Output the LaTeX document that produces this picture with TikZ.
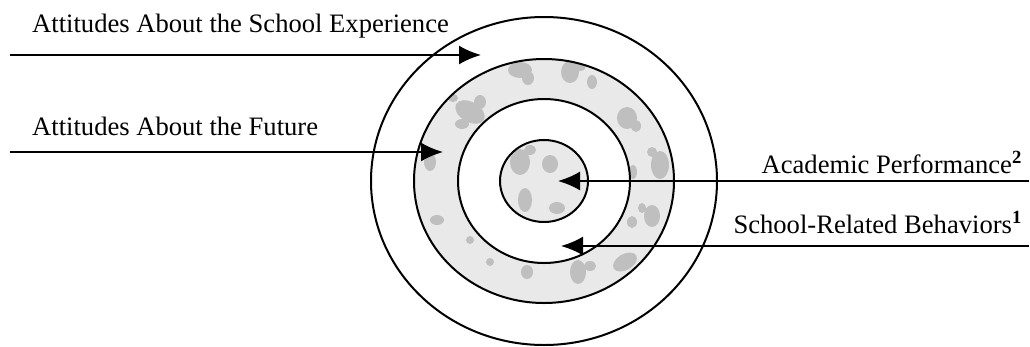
\documentclass[tikz,border=0pt]{standalone}
\usepackage{fontspec}
\setmainfont{Liberation Serif}
\usetikzlibrary{arrows.meta}
\begin{document}
\begin{tikzpicture}[x=1pt,y=-1pt,
  lbl/.style={inner sep=0pt,font=\fontsize{26.6pt}{30pt}\selectfont},
  ring/.style={line width=2pt},
  arr/.style={line width=2pt,-{Latex[length=22pt,width=19pt]}},
  shade/.style={fill=gray!17},
  blob/.style={fill=gray!50}]
\useasboundingbox (0,0) rectangle (1030,346);
\coordinate (c) at (544,181);
% outer ring
\draw[ring] (c) ellipse [x radius=173, y radius=164];
% shaded ring
\begin{scope}
  \clip (c) ellipse [x radius=130, y radius=122];
  \fill[shade] (c) ellipse [x radius=130, y radius=122];
  \fill[blob] (520,70) ellipse [x radius=12, y radius=8] (528,78) ellipse [x radius=6, y radius=7];
  \fill[blob] (570,72) ellipse [x radius=9, y radius=11] (580,66) ellipse [x radius=6, y radius=5];
  \fill[blob] (592,82) ellipse [x radius=5, y radius=7];
  \fill[blob, rotate around={-30:(470,112)}] (470,112) ellipse [x radius=16, y radius=10];
  \fill[blob] (480,102) ellipse [x radius=6, y radius=7] (462,124) ellipse [x radius=7, y radius=5];
  \fill[blob] (453,98) ellipse [x radius=5, y radius=4];
  \fill[blob] (627,118) ellipse [x radius=10, y radius=11] (636,126) ellipse [x radius=5, y radius=6];
  \fill[blob] (660,165) ellipse [x radius=9, y radius=14] (652,152) ellipse [x radius=5, y radius=5];
  \fill[blob] (633,172) ellipse [x radius=4, y radius=7];
  \fill[blob] (652,216) ellipse [x radius=8, y radius=11] (642,208) ellipse [x radius=4, y radius=5];
  \fill[blob] (632,222) ellipse [x radius=5, y radius=6];
  \fill[blob, rotate around={30:(625,262)}] (625,262) ellipse [x radius=13, y radius=8];
  \fill[blob] (578,272) ellipse [x radius=8, y radius=12] (590,266) ellipse [x radius=6, y radius=5];
  \fill[blob] (527,272) ellipse [x radius=6, y radius=7];
  \fill[blob] (430,162) ellipse [x radius=6, y radius=9];
  \fill[blob] (437,220) ellipse [x radius=7, y radius=5];
  \fill[blob] (470,240) ellipse [x radius=4, y radius=4];
  \fill[blob] (490,262) ellipse [x radius=4, y radius=4];
\end{scope}
\fill[white] (c) ellipse [x radius=86, y radius=82];
% inner disc
\begin{scope}
  \clip (c) ellipse [x radius=44, y radius=41];
  \fill[shade] (c) ellipse [x radius=44, y radius=41];
  \fill[blob] (520,162) ellipse [x radius=10, y radius=13] (530,150) ellipse [x radius=6, y radius=5];
  \fill[blob] (550,164) ellipse [x radius=8, y radius=9];
  \fill[blob] (525,200) ellipse [x radius=7, y radius=12];
  \fill[blob] (557,208) ellipse [x radius=8, y radius=6];
\end{scope}
\draw[ring] (c) ellipse [x radius=130, y radius=122];
\draw[ring] (c) ellipse [x radius=86, y radius=82];
\draw[ring] (c) ellipse [x radius=44, y radius=41];
% labels
\node[lbl, anchor=base west] (tschool) at (32,32) {Attitudes About the School Experience};
\node[lbl, anchor=base west] (tfuture) at (32,135) {Attitudes About the Future};
\node[lbl, anchor=base east] (tacad) at (1022,173) {Academic Performance\textsuperscript{\textbf{2}}};
\node[lbl, anchor=base east] (tbeh) at (1022,233) {School-Related Behaviors\textsuperscript{\textbf{1}}};
% arrows
\coordinate (s1) at (10,55);   \coordinate (e1) at (481,55);
\coordinate (s2) at (10,152);  \coordinate (e2) at (443,152);
\coordinate (s3) at (1029,181); \coordinate (e3) at (558,181);
\coordinate (s4) at (1029,246); \coordinate (e4) at (561,246);
\draw[arr] (s1) -- (e1);
\draw[arr] (s2) -- (e2);
\draw[arr] (s3) -- (e3);
\draw[arr] (s4) -- (e4);
\end{tikzpicture}
\end{document}
